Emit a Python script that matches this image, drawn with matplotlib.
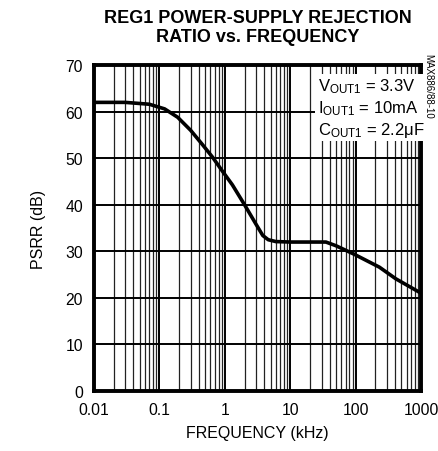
import matplotlib.pyplot as plt
from matplotlib.ticker import LogLocator, FixedLocator, NullFormatter

plt.rcParams['font.family'] = ['Liberation Sans Narrow', 'Liberation Sans', 'DejaVu Sans']

# data
freq_khz = [0.01, 0.03, 0.07, 0.12, 0.19, 0.3, 0.45, 0.65, 0.92, 1.3, 2.0,
            3.0, 3.8, 4.6, 6.0, 10, 20, 35, 50, 94, 230, 410, 1000]
psrr_db = [62.0, 62.0, 61.6, 60.6, 58.8, 56.0, 53.0, 50.2, 47.2, 44.3, 40.0,
           35.8, 33.4, 32.5, 32.1, 32.0, 32.0, 32.0, 31.2, 29.4, 26.6, 24.1, 21.0]
x_ticks = [0.01, 0.1, 1, 10, 100, 1000]
x_labels = ['0.01', '0.1', '1', '10', '100', '1000']
y_ticks = [0, 10, 20, 30, 40, 50, 60, 70]

fig = plt.figure(figsize=(4.38, 4.52), dpi=100)
ax = fig.add_axes([0.2146, 0.1327, 0.747, 0.721])

ax.set_xscale('log')
ax.set_xlim(0.01, 1000)
ax.set_ylim(0, 70)

# grid: decades, minor decades and every 10 dB
ax.xaxis.set_major_locator(FixedLocator(x_ticks))
ax.xaxis.set_minor_locator(LogLocator(base=10, subs=range(2, 10), numticks=20))
ax.xaxis.set_minor_formatter(NullFormatter())
ax.set_xticks(x_ticks)
ax.set_xticklabels(x_labels)
ax.set_yticks(y_ticks)
ax.grid(True, which='major', color='black', lw=1.4)
ax.grid(True, which='minor', axis='x', color='#222222', lw=0.9)
ax.tick_params(which='both', length=0, labelsize=11.3, pad=8)

for s in ax.spines.values():
    s.set_linewidth(2.8)

ax.plot(freq_khz, psrr_db, color='black', lw=2.6, solid_capstyle='butt', zorder=5)

ax.set_xlabel('FREQUENCY (kHz)', fontsize=11.5, labelpad=6)
ax.set_ylabel('PSRR (dB)', fontsize=11.5, labelpad=14)

fig.text(0.588, 0.978, 'REG1 POWER-SUPPLY REJECTION\nRATIO vs. FREQUENCY',
         ha='center', va='top', fontsize=13, fontweight='bold', linespacing=1.15)

cond = (r'$\mathregular{V_{OUT1}}$ = 3.3V' + '\n' +
        r'$\mathregular{I_{OUT1}}$ = 10mA' + '\n' +
        r'$\mathregular{C_{OUT1}}$ = 2.2$\mathregular{\mu}$F')
ax.text(0.685, 0.965, cond, transform=ax.transAxes, ha='left', va='top',
        fontsize=12, linespacing=1.2, zorder=6,
        bbox=dict(facecolor='white', edgecolor='none', pad=2))

fig.text(0.978, 0.88, 'MAX886/88-10', rotation=270, ha='center', va='top', fontsize=7)

fig.savefig('out.png', dpi=100)
